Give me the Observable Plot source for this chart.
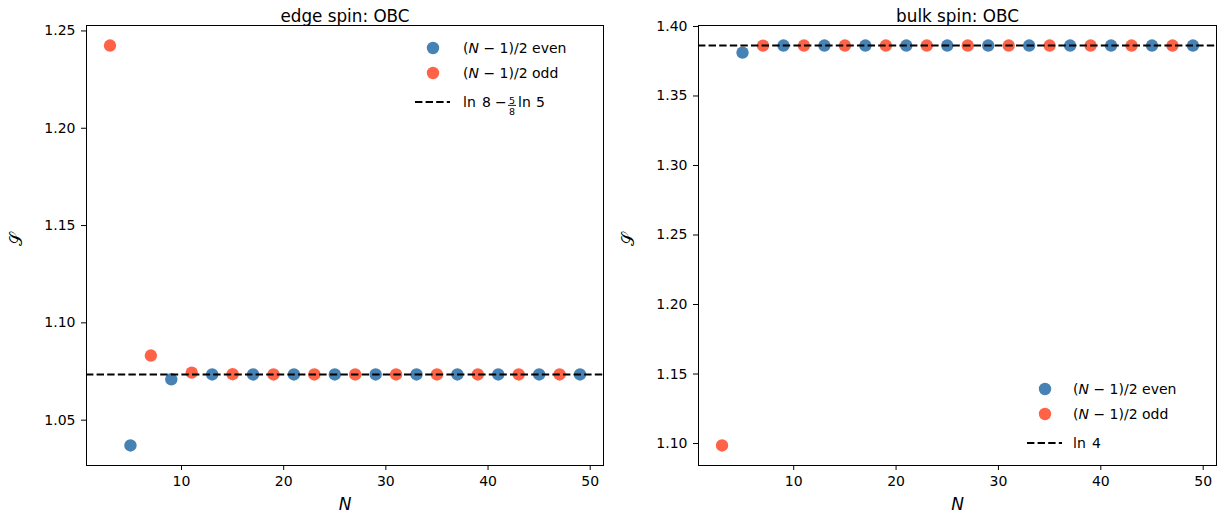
<!DOCTYPE html>
<html><head><meta charset="utf-8">
<script src="https://cdn.jsdelivr.net/npm/d3@7"></script>
<script src="https://cdn.jsdelivr.net/npm/@observablehq/plot@0.6"></script>
<style>
body{margin:0;background:#fff;font-family:"DejaVu Sans",sans-serif;}
#wrap{display:flex;width:1225px;height:522px;}
svg{display:block}
</style></head><body><div id="wrap"></div>
<script>
// ---- data ----
const evenN = [5, 9, 13, 17, 21, 25, 29, 33, 37, 41, 45, 49];
const oddN  = [3, 7, 11, 15, 19, 23, 27, 31, 35, 39, 43, 47];
const edgeEven = [1.0370, 1.0710, 1.0735, 1.0735, 1.0735, 1.0735, 1.0735, 1.0735, 1.0735, 1.0735, 1.0735, 1.0735];
const edgeOdd  = [1.2425, 1.0832, 1.0744, 1.0736, 1.0735, 1.0735, 1.0735, 1.0735, 1.0735, 1.0735, 1.0735, 1.0735];
const bulkEven = [1.3812, 1.3863, 1.3863, 1.3863, 1.3863, 1.3863, 1.3863, 1.3863, 1.3863, 1.3863, 1.3863, 1.3863];
const bulkOdd  = [1.0986, 1.3862, 1.3863, 1.3863, 1.3863, 1.3863, 1.3863, 1.3863, 1.3863, 1.3863, 1.3863, 1.3863];
const edgeRef = 1.0735;   // ln 8 − (5/8) ln 5
const bulkRef = 1.3863;   // ln 4
const xTicks = [10, 20, 30, 40, 50];
const edgeYTicks = [1.05, 1.10, 1.15, 1.20, 1.25];
const bulkYTicks = [1.10, 1.15, 1.20, 1.25, 1.30, 1.35, 1.40];
const titles = ["edge spin: OBC", "bulk spin: OBC"];
const seriesNames = ["even", "odd"];
const colors = ["#4682b4", "#ff6347"];

const FONT = "DejaVu Sans";

function panel({title, evenVals, oddVals, ref, yDomain, yTicks, width, marginRight, legendY, textX, refLabel}) {
  const evenData = evenN.map((n, i) => ({N: n, S: evenVals[i]}));
  const oddData = oddN.map((n, i) => ({N: n, S: oddVals[i]}));
  const svg = Plot.plot({
    width, height: 522,
    marginLeft: 86, marginRight, marginTop: 25, marginBottom: 57,
    x: {domain: [0.7, 51.3]},
    y: {domain: yDomain},
    style: {fontFamily: FONT, fontSize: "14px", color: "black", background: "white", overflow: "visible"},
    marks: [
      Plot.axisX({ticks: xTicks, tickSize: 5, tickPadding: 6, label: null, fontSize: 14, tickFormat: d => String(d)}),
      Plot.axisY({ticks: yTicks, tickSize: 5, tickPadding: 6, label: null, fontSize: 14, tickFormat: d3.format(".2f")}),
      Plot.dot(evenData, {x: "N", y: "S", r: 6.2, fill: colors[0], stroke: "none"}),
      Plot.dot(oddData, {x: "N", y: "S", r: 6.2, fill: colors[1], stroke: "none"}),
      Plot.ruleY([ref], {stroke: "black", strokeWidth: 2, strokeDasharray: "7.4,3.2"}),
      Plot.frame({stroke: "black", strokeWidth: 1}),
      Plot.text([title], {frameAnchor: "top", dy: -15, fontSize: 16.8, fill: "black"}),
      Plot.text(["𝒮"], {frameAnchor: "left", dx: -70, rotate: -90, fontSize: 17, fill: "black"}),
      Plot.text(["N"], {frameAnchor: "bottom", dy: 44, fontSize: 17, fontStyle: "italic", fill: "black"})
    ]
  });
  // legend
  const g = d3.select(svg).append("g")
    .attr("font-family", FONT).attr("font-size", 14).attr("fill", "black").attr("text-anchor", "start");
  const lx = 433;
  seriesNames.forEach((name, i) => {
    const y = legendY + i * 25;
    g.append("circle").attr("cx", lx).attr("cy", y).attr("r", 6.2).attr("fill", colors[i]);
    const t = g.append("text").attr("x", textX).attr("y", y + 5);
    t.append("tspan").text("(");
    t.append("tspan").attr("font-style", "italic").text("N");
    t.append("tspan").text(" − 1)/2 " + name);
  });
  const yl = legendY + 54;
  g.append("line").attr("x1", 415).attr("x2", 450).attr("y1", yl).attr("y2", yl)
    .attr("stroke", "black").attr("stroke-width", 2).attr("stroke-dasharray", "7.4,3.2");
  refLabel(g, textX, yl);
  return svg;
}

const wrap = document.getElementById("wrap");
wrap.appendChild(panel({
  title: titles[0], evenVals: edgeEven, oddVals: edgeOdd, ref: edgeRef,
  yDomain: [1.0267, 1.2528], yTicks: edgeYTicks, width: 612, marginRight: 9, legendY: 48, textX: 463,
  refLabel: (g, x, y) => {
    g.append("text").attr("x", x).attr("y", y + 5).text("ln");
    g.append("text").attr("x", x + 19).attr("y", y + 5).text("8");
    g.append("text").attr("x", x + 32).attr("y", y + 5).text("−");
    g.append("text").attr("x", x + 49).attr("y", y + 1.8).attr("font-size", 9.5).attr("text-anchor", "middle").text("5");
    g.append("line").attr("x1", x + 45).attr("x2", x + 53).attr("y1", y + 3.4).attr("y2", y + 3.4).attr("stroke", "black").attr("stroke-width", 0.9);
    g.append("text").attr("x", x + 49).attr("y", y + 12.8).attr("font-size", 9.5).attr("text-anchor", "middle").text("8");
    g.append("text").attr("x", x + 55).attr("y", y + 5).text("ln");
    g.append("text").attr("x", x + 73).attr("y", y + 5).text("5");
  }
}));
wrap.appendChild(panel({
  title: titles[1], evenVals: bulkEven, oddVals: bulkOdd, ref: bulkRef,
  yDomain: [1.0842, 1.4007], yTicks: bulkYTicks, width: 613, marginRight: 9, legendY: 389, textX: 461,
  refLabel: (g, x, y) => {
    g.append("text").attr("x", x).attr("y", y + 5).text("ln");
    g.append("text").attr("x", x + 19).attr("y", y + 5).text("4");
  }
}));
</script></body></html>
